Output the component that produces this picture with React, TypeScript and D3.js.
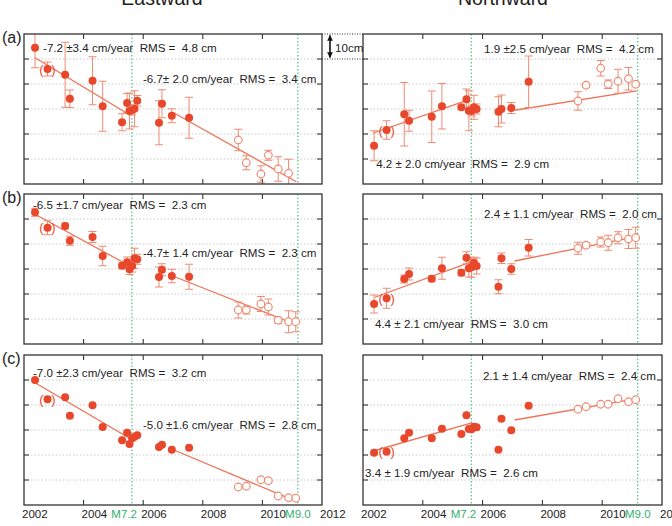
import { scaleLinear } from "d3";

// survey epochs (decimal year); the last seven are the open-circle campaigns
const epochs = [
  2002.37, 2002.79, 2003.38, 2003.54, 2004.3, 2004.64, 2005.29, 2005.46, 2005.54,
  2005.63, 2005.71, 2005.8, 2006.53, 2006.63, 2006.96, 2007.54, 2009.19, 2009.46,
  2009.95, 2010.2, 2010.53, 2010.88, 2011.12,
];
const hollow = [
  0, 0, 0, 0, 0, 0, 0, 0, 0, 0, 0, 0, 0, 0, 0, 0, 1, 1, 1, 1, 1, 1, 1,
];
const bracketed = 1; // index of the "( )" epoch

const quakes = [
  { year: 2005.62, name: "M7.2" },
  { year: 2011.19, name: "M9.0" },
];
const yearTicks = [2004, 2006, 2008, 2010];
const yearLabels = [2002, 2004, 2006, 2008, 2010, 2012];
const cmGrid = [10, 20, 30, 40, 50];

// displacement, cm
const eastA = [54.5, 46.0, 43.7, 34.1, 41.3, 31.1, 24.7, 32.4, 29.2, 29.6, 30.1, 33.3, 24.5, 32.1, 27.3, 26.5, 17.6, 8.5, 4.0, 11.5, 6.0, 4.3, null];
const eastAErr = [8, 2.8, 13, 3.5, 9.6, 10, 3.4, 3.8, 7.2, 2, 7.2, 2.1, 8.8, 5.6, 2.8, 8.2, 4.3, 2.8, 3.3, 2, 4.9, 5.6, null];
const eastB = [52.7, 46.5, 47.2, 41.3, 42.8, 35.2, 31.3, 32.7, 29.9, 31.2, 34.3, 33.9, 26.8, 29.7, 27.2, 26.9, 13.6, 13.6, 16.0, 14.8, 9.5, 8.9, 8.9];
const eastBErr = [1.6, 2.8, 1.2, 1.8, 2.2, 3.9, 1.2, 2.1, 2.1, 2.4, 4, 2, 4, 2.4, 2.7, 5, 3.2, 1.6, 3, 3.2, 1.2, 4.4, 4];
const eastC = [50.0, 42.3, 43.1, 35.7, 39.9, 31.2, 25.9, 28.9, 24.4, 26.7, 27.3, 27.9, 23.2, 24.1, 22.1, 22.9, 7.2, 7.5, 10.1, 9.7, 3.6, 2.9, 2.7];

const northA = [15.3, 21.6, 27.9, 25.3, 26.9, 31.1, 30.7, 33.9, 29.3, 29.2, 30.7, 30.0, 28.9, 30.0, 30.4, 40.9, 33.2, 39.5, 46.3, 39.9, 41.1, 42.1, 39.9];
const northAErr = [6, 3.7, 12.7, 4.2, 10.3, 9.1, 0.8, 4.1, 8, 2, 4.8, 2, 6, 5.6, 2.2, 10.3, 3.7, 0.8, 3.1, 1.7, 4.8, 4.5, 0.8];
const northB = [16.0, 18.3, 26.0, 28.0, 26.1, 30.3, 28.5, 34.5, 30.3, 30.7, 32.5, 31.2, 22.9, 34.3, 30.0, 38.5, 38.3, 39.5, 40.8, 40.5, 42.5, 42.0, 42.5];
const northBErr = [3.6, 4, 1.6, 2.4, 1.2, 4.4, 1.2, 2.4, 3.5, 4, 2.2, 3.2, 2.8, 2.1, 2.1, 3.3, 2.4, 1, 2, 3, 2.4, 3.8, 4.2];
const northC = [20.9, 21.3, 26.7, 28.9, 26.7, 30.5, 28.4, 35.9, 30.4, 30.3, 31.3, 31.1, 22.1, 34.5, 29.9, 39.7, 38.3, 39.3, 40.3, 40.3, 42.5, 41.3, 42.1];

// linear fits before / after the M7.2 event: rate and sigma in cm/year, rms in cm
const fitEastA = [
  { from: 2002.37, to: 2005.55, start: 50.5, rate: -7.2, sigma: 3.4, rms: 4.8, pm: " ±" },
  { from: 2006.99, to: 2011.14, start: 28.7, rate: -6.7, sigma: 2.0, rms: 3.4, pm: "± " },
];
const fitEastB = [
  { from: 2002.4, to: 2005.6, start: 51.7, rate: -6.5, sigma: 1.7, rms: 2.3, pm: " ±" },
  { from: 2006.97, to: 2010.8, start: 27.3, rate: -4.7, sigma: 1.4, rms: 2.3, pm: "± " },
];
const fitEastC = [
  { from: 2002.37, to: 2005.6, start: 48.9, rate: -7.0, sigma: 2.3, rms: 3.2, pm: " ±" },
  { from: 2006.95, to: 2010.8, start: 22.4, rate: -5.0, sigma: 1.6, rms: 2.8, pm: " ±" },
];
const fitNorthA = [
  { from: 2002.33, to: 2005.4, start: 20.3, rate: 4.2, sigma: 2.0, rms: 2.9, pm: " ± " },
  { from: 2007.07, to: 2011.15, start: 29.5, rate: 1.9, sigma: 2.5, rms: 4.2, pm: " ±" },
];
const fitNorthB = [
  { from: 2002.4, to: 2005.64, start: 18.7, rate: 4.4, sigma: 2.1, rms: 3.0, pm: " ± " },
  { from: 2007.07, to: 2011.15, start: 33.2, rate: 2.4, sigma: 1.1, rms: 2.0, pm: " ± " },
];
const fitNorthC = [
  { from: 2002.4, to: 2005.64, start: 21.8, rate: 3.4, sigma: 1.9, rms: 2.6, pm: " ± " },
  { from: 2007.07, to: 2011.15, start: 34.0, rate: 2.1, sigma: 1.4, rms: 2.4, pm: " ± " },
];

const DOT = "#e8472b";
const SOFT = "#ee8a72";
const LINE = "#ee7357";
const GREEN = "#35b06e";
const INK = "#222";
const FONT = "'Liberation Sans', Arial, sans-serif";

const H = 150;
const cols = [
  { x0: 24, x1: 322 },
  { x0: 363, x1: 662 },
];
const rows = [34, 194, 355];

type Fit = { from: number; to: number; start: number; rate: number; sigma: number; rms: number; pm: string };

const fitText = (f: Fit) =>
  `${f.rate.toFixed(1)}${f.pm}${f.sigma.toFixed(1)} cm/year  RMS =  ${f.rms.toFixed(1)} cm`;

function Panel(props: {
  id: string;
  col: number;
  row: number;
  values: (number | null)[];
  errs?: (number | null)[];
  fits: Fit[];
  labelAt: [number, number][];
  axis: boolean;
}) {
  const { id, col, row, values, errs, fits, labelAt, axis } = props;
  const { x0, x1 } = cols[col];
  const top = rows[row];
  const x = scaleLinear().domain([2002, 2012]).range([x0, x1]);
  const y = scaleLinear().domain([0, 60]).range([top + H, top]);

  return (
    <g>
      <defs>
        <clipPath id={id}>
          <rect x={x0} y={top} width={x1 - x0} height={H} />
        </clipPath>
      </defs>
      {cmGrid.map((c) => (
        <g key={c}>
          <line x1={x0} x2={x1} y1={y(c)} y2={y(c)} stroke="#c4c4c4" strokeWidth={0.9} strokeDasharray="1.5,2" />
          <line x1={x0} x2={x0 + 5} y1={y(c)} y2={y(c)} stroke={INK} strokeWidth={1} />
          <line x1={x1 - 5} x2={x1} y1={y(c)} y2={y(c)} stroke={INK} strokeWidth={1} />
        </g>
      ))}
      {yearTicks.map((t) => (
        <g key={t}>
          <line x1={x(t)} x2={x(t)} y1={top} y2={top + 5} stroke={INK} strokeWidth={1} />
          <line x1={x(t)} x2={x(t)} y1={top + H - 5} y2={top + H} stroke={INK} strokeWidth={1} />
        </g>
      ))}
      {quakes.map((q) => (
        <line key={q.name} x1={x(q.year)} x2={x(q.year)} y1={top} y2={top + H} stroke={GREEN} strokeWidth={1} strokeDasharray="1.5,2" />
      ))}
      <g clipPath={`url(#${id})`}>
        {fits.map((f, i) => (
          <line
            key={i}
            x1={x(f.from)}
            x2={x(f.to)}
            y1={y(f.start)}
            y2={y(f.start + f.rate * (f.to - f.from))}
            stroke={LINE}
            strokeWidth={1.3}
          />
        ))}
        {errs &&
          values.map((v, i) => {
            const e = errs[i];
            if (v == null || e == null) return null;
            const cx = x(epochs[i]);
            return (
              <g key={i} stroke={SOFT} strokeWidth={1}>
                <line x1={cx} x2={cx} y1={y(v - e)} y2={y(v + e)} />
                <line x1={cx - 4} x2={cx + 4} y1={y(v - e)} y2={y(v - e)} />
                <line x1={cx - 4} x2={cx + 4} y1={y(v + e)} y2={y(v + e)} />
              </g>
            );
          })}
        {values.map((v, i) =>
          v == null ? null : hollow[i] ? (
            <circle key={i} cx={x(epochs[i])} cy={y(v)} r={3.8} fill="#fff" stroke={SOFT} strokeWidth={1.2} />
          ) : (
            <circle key={i} cx={x(epochs[i])} cy={y(v)} r={4} fill={DOT} />
          )
        )}
        {values[bracketed] != null && (
          <g fill={DOT} fontSize={13} fontFamily={FONT} textAnchor="middle" dominantBaseline="central">
            <text x={x(epochs[bracketed]) - 6} y={y(values[bracketed] as number)}>(</text>
            <text x={x(epochs[bracketed]) + 6} y={y(values[bracketed] as number)}>)</text>
          </g>
        )}
      </g>
      {fits.map((f, i) => (
        <text
          key={i}
          x={x(labelAt[i][0])}
          y={y(labelAt[i][1])}
          fontSize={11.6}
          fontFamily={FONT}
          fill={INK}
          style={{ whiteSpace: "pre" }}
        >
          {fitText(f)}
        </text>
      ))}
      <rect x={x0} y={top} width={x1 - x0} height={H} fill="none" stroke="#333" strokeWidth={1.3} />
      {axis && (
        <g fontFamily={FONT} fontSize={11.5}>
          {yearLabels.map((t) => (
            <text key={t} x={x(t) - 2} y={518} fill={INK}>
              {t}
            </text>
          ))}
          <text x={x(quakes[0].year) + 5} y={518} fill={GREEN} textAnchor="end">
            {quakes[0].name}
          </text>
          <text x={x(quakes[1].year)} y={518} fill={GREEN} textAnchor="middle">
            {quakes[1].name}
          </text>
        </g>
      )}
    </g>
  );
}

export default function App() {
  return (
    <svg
      width={672}
      height={526}
      style={{ position: "fixed", left: 0, top: 0, background: "#fff" }}
    >
      <defs>
        <marker id="head" viewBox="0 0 10 10" refX="9" refY="5" markerWidth="3.6" markerHeight="3.6" orient="auto-start-reverse">
          <path d="M0,0 L10,5 L0,10 z" fill="#111" />
        </marker>
      </defs>
      <rect width={672} height={526} fill="#fff" />
      <text x={162} y={5} textAnchor="middle" fontSize={19.5} fontFamily={FONT} fill={INK}>Eastward</text>
      <text x={503} y={5} textAnchor="middle" fontSize={19.5} fontFamily={FONT} fill={INK}>Northward</text>

      {["(a)", "(b)", "(c)"].map((t, i) => (
        <text key={t} x={2} y={rows[i] + 9} fontSize={16} fontFamily={FONT} fill={INK}>{t}</text>
      ))}

      <Panel id="ea" col={0} row={0} values={eastA} errs={eastAErr} fits={fitEastA} labelAt={[[2002.64, 52.8], [2005.99, 40.4]]} axis={false} />
      <Panel id="eb" col={0} row={1} values={eastB} errs={eastBErr} fits={fitEastB} labelAt={[[2002.3, 54.0], [2005.99, 34.8]]} axis={false} />
      <Panel id="ec" col={0} row={2} values={eastC} fits={fitEastC} labelAt={[[2002.3, 51.2], [2005.99, 30.4]]} axis={true} />
      <Panel id="na" col={1} row={0} values={northA} errs={northAErr} fits={fitNorthA} labelAt={[[2002.44, 6.6], [2006.05, 52.6]]} axis={false} />
      <Panel id="nb" col={1} row={1} values={northB} errs={northBErr} fits={fitNorthB} labelAt={[[2002.4, 6.6], [2006.05, 50.6]]} axis={false} />
      <Panel id="nc" col={1} row={2} values={northC} fits={fitNorthC} labelAt={[[2002.07, 11.2], [2006.01, 50.0]]} axis={true} />

      {/* 10 cm scale bracket between the two columns */}
      <g>
        <line x1={322} x2={363} y1={34} y2={34} stroke="#333" strokeWidth={1} strokeDasharray="1,1.5" />
        <line x1={322} x2={363} y1={59} y2={59} stroke="#333" strokeWidth={1} strokeDasharray="1,1.5" />
        <line x1={330} x2={330} y1={35.5} y2={57.5} stroke="#111" strokeWidth={1.6} markerStart="url(#head)" markerEnd="url(#head)" />
        <text x={335} y={52} fontSize={11.6} fontFamily={FONT} fill={INK}>10cm</text>
      </g>
    </svg>
  );
}
